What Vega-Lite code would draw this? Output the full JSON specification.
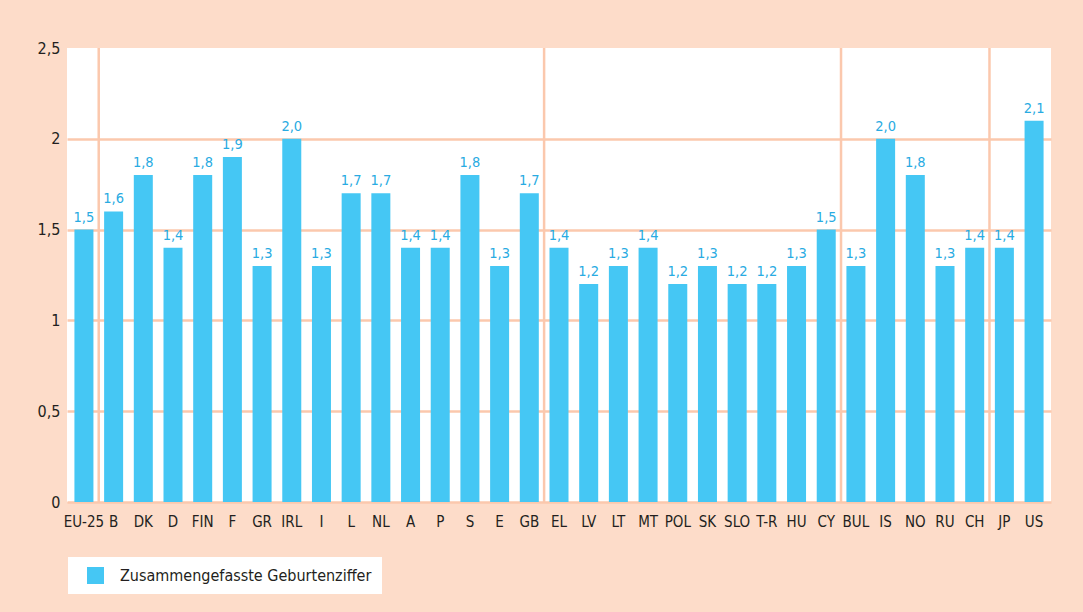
{
  "$schema": "https://vega.github.io/schema/vega-lite/v6.json",
  "width": 984,
  "height": 454,
  "autosize": {"type": "none"},
  "padding": {"left": 67, "top": 48, "right": 32, "bottom": 110},
  "background": "#fddcc9",
  "config": {
    "locale": {"number": {"decimal": ",", "thousands": ".", "grouping": [3], "currency": ["", " €"]}},
    "view": {"stroke": null, "fill": "white"},
    "font": "Liberation Sans Narrow, DejaVu Sans Condensed, Roboto, sans-serif"
  },
  "datasets": {
    "rates": [
      {"land": "EU-25", "wert": 1.5, "serie": "Zusammengefasste Geburtenziffer"},
      {"land": "B", "wert": 1.6, "serie": "Zusammengefasste Geburtenziffer"},
      {"land": "DK", "wert": 1.8, "serie": "Zusammengefasste Geburtenziffer"},
      {"land": "D", "wert": 1.4, "serie": "Zusammengefasste Geburtenziffer"},
      {"land": "FIN", "wert": 1.8, "serie": "Zusammengefasste Geburtenziffer"},
      {"land": "F", "wert": 1.9, "serie": "Zusammengefasste Geburtenziffer"},
      {"land": "GR", "wert": 1.3, "serie": "Zusammengefasste Geburtenziffer"},
      {"land": "IRL", "wert": 2.0, "serie": "Zusammengefasste Geburtenziffer"},
      {"land": "I", "wert": 1.3, "serie": "Zusammengefasste Geburtenziffer"},
      {"land": "L", "wert": 1.7, "serie": "Zusammengefasste Geburtenziffer"},
      {"land": "NL", "wert": 1.7, "serie": "Zusammengefasste Geburtenziffer"},
      {"land": "A", "wert": 1.4, "serie": "Zusammengefasste Geburtenziffer"},
      {"land": "P", "wert": 1.4, "serie": "Zusammengefasste Geburtenziffer"},
      {"land": "S", "wert": 1.8, "serie": "Zusammengefasste Geburtenziffer"},
      {"land": "E", "wert": 1.3, "serie": "Zusammengefasste Geburtenziffer"},
      {"land": "GB", "wert": 1.7, "serie": "Zusammengefasste Geburtenziffer"},
      {"land": "EL", "wert": 1.4, "serie": "Zusammengefasste Geburtenziffer"},
      {"land": "LV", "wert": 1.2, "serie": "Zusammengefasste Geburtenziffer"},
      {"land": "LT", "wert": 1.3, "serie": "Zusammengefasste Geburtenziffer"},
      {"land": "MT", "wert": 1.4, "serie": "Zusammengefasste Geburtenziffer"},
      {"land": "POL", "wert": 1.2, "serie": "Zusammengefasste Geburtenziffer"},
      {"land": "SK", "wert": 1.3, "serie": "Zusammengefasste Geburtenziffer"},
      {"land": "SLO", "wert": 1.2, "serie": "Zusammengefasste Geburtenziffer"},
      {"land": "T-R", "wert": 1.2, "serie": "Zusammengefasste Geburtenziffer"},
      {"land": "HU", "wert": 1.3, "serie": "Zusammengefasste Geburtenziffer"},
      {"land": "CY", "wert": 1.5, "serie": "Zusammengefasste Geburtenziffer"},
      {"land": "BUL", "wert": 1.3, "serie": "Zusammengefasste Geburtenziffer"},
      {"land": "IS", "wert": 2.0, "serie": "Zusammengefasste Geburtenziffer"},
      {"land": "NO", "wert": 1.8, "serie": "Zusammengefasste Geburtenziffer"},
      {"land": "RU", "wert": 1.3, "serie": "Zusammengefasste Geburtenziffer"},
      {"land": "CH", "wert": 1.4, "serie": "Zusammengefasste Geburtenziffer"},
      {"land": "JP", "wert": 1.4, "serie": "Zusammengefasste Geburtenziffer"},
      {"land": "US", "wert": 2.1, "serie": "Zusammengefasste Geburtenziffer"}
    ],
    "trenner": [
      {"land": "B"}, {"land": "EL"}, {"land": "BUL"}, {"land": "JP"}
    ]
  },
  "encoding": {
    "x": {
      "field": "land", "type": "nominal",
      "scale": {
        "domain": ["EU-25","B","DK","D","FIN","F","GR","IRL","I","L","NL","A","P","S","E","GB","EL","LV","LT","MT","POL","SK","SLO","T-R","HU","CY","BUL","IS","NO","RU","CH","JP","US"],
        "paddingInner": 0.36, "paddingOuter": 0.25
      },
      "axis": {
        "title": null, "labelAngle": 0, "ticks": false, "domain": false,
        "labelFontSize": 15, "labelColor": "#231f20", "labelPadding": 12
      }
    }
  },
  "layer": [
    {
      "data": {"name": "rates"},
      "mark": {"type": "bar", "color": "#45c7f4"},
      "encoding": {
        "y": {
          "field": "wert", "type": "quantitative",
          "scale": {"domain": [0, 2.5], "nice": false},
          "axis": {
            "title": null, "values": [0, 0.5, 1, 1.5, 2, 2.5], "format": "~g",
            "ticks": false, "domain": false, "labelFontSize": 16, "labelColor": "#231f20",
            "labelPadding": 7, "gridColor": "#fbc8ad", "gridWidth": 2.5,
            "gridOpacity": {"condition": {"test": "datum.value >= 2.5", "value": 0}, "value": 1}
          }
        },
        "color": {
          "field": "serie", "type": "nominal",
          "scale": {"range": ["#45c7f4"]},
          "legend": {
            "title": null, "orient": "none", "legendX": 1, "legendY": 509,
            "fillColor": "white", "padding": 10, "symbolType": "square", "symbolSize": 289,
            "symbolStrokeWidth": 0, "symbolOpacity": 1, "symbolOffset": 9,
            "labelFontSize": 16, "labelColor": "#231f20", "labelOffset": 16, "labelLimit": 400
          }
        }
      }
    },
    {
      "data": {"name": "trenner"},
      "mark": {"type": "rule", "color": "#fbc8ad", "strokeWidth": 2.5, "xOffset": -5.4},
      "encoding": {"x": {"field": "land", "type": "nominal", "bandPosition": 0}}
    },
    {
      "data": {"name": "rates"},
      "mark": {"type": "text", "color": "#29abe2", "fontSize": 14.5, "dy": -8, "baseline": "alphabetic"},
      "encoding": {
        "y": {"field": "wert", "type": "quantitative"},
        "text": {"field": "wert", "type": "quantitative", "format": ".1f"}
      }
    }
  ]
}
